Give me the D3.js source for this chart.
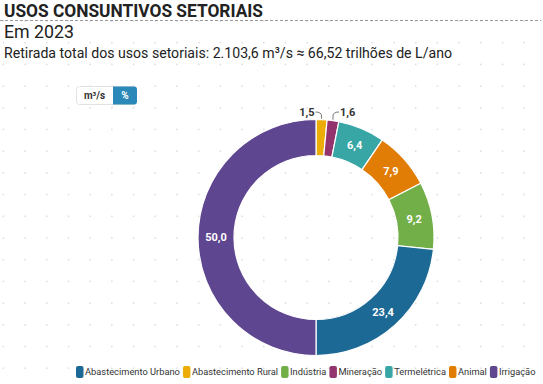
<!DOCTYPE html>
<html>
<head>
<meta charset="utf-8">
<script src="https://cdn.jsdelivr.net/npm/d3@7"></script>
<style>
  body { margin: 0; background: #fff; }
  svg { display: block; font-family: Roboto, "Open Sans", sans-serif; }
</style>
</head>
<body>
<div id="chart"></div>
<script>
// data, clockwise from 12 o'clock
var sectors = ["Abastecimento Rural", "Mineração", "Termelétrica", "Animal", "Indústria", "Abastecimento Urbano", "Irrigação"];
var shares = [1.5, 1.6, 6.4, 7.9, 9.2, 23.4, 50.0];
var legendOrder = ["Abastecimento Urbano", "Abastecimento Rural", "Indústria", "Mineração", "Termelétrica", "Animal", "Irrigação"];
var sectorColors = ["#edad08", "#94346e", "#38a6a5", "#e17c05", "#73af48", "#1d6996", "#5f4690"];

var width = 543, height = 384;
var cx = 316, cy = 237.5, rOuter = 118, rInner = 82;

var svg = d3.select("#chart").append("svg")
    .attr("width", width)
    .attr("height", height);

// dotted background
var gx = d3.range(3.4, width, 21.7), gy = d3.range(-0.7, height, 21.7);
var dots = svg.append("g").attr("fill", "#dcdcdc");
gy.forEach(function(y) {
    gx.forEach(function(x) {
        dots.append("rect").attr("x", x - 0.75).attr("y", y - 0.75).attr("width", 1.5).attr("height", 1.5);
    });
});

// header (the original font is condensed, so squeeze to the same widths)
function fitText(sel, w) {
    sel.attr("textLength", w).attr("lengthAdjust", "spacingAndGlyphs");
}
svg.append("text").attr("x", 4).attr("y", 17)
    .style("font-size", "18px").style("font-weight", "bold").attr("fill", "#222")
    .text("USOS CONSUNTIVOS SETORIAIS").call(fitText, 259);
svg.append("line").attr("x1", 0).attr("x2", 541).attr("y1", 20.5).attr("y2", 20.5)
    .attr("stroke", "#999").attr("stroke-dasharray", "3,2");
svg.append("text").attr("x", 4).attr("y", 38)
    .style("font-size", "19px").attr("fill", "#222")
    .text("Em 2023").call(fitText, 70);
svg.append("text").attr("x", 4).attr("y", 58)
    .style("font-size", "15.5px").attr("fill", "#222")
    .text("Retirada total dos usos setoriais: 2.103,6 m³/s ≈ 66,52 trilhões de L/ano").call(fitText, 448);

// unit toggle
var btn = svg.append("g").attr("transform", "translate(76,86)");
btn.append("rect").attr("x", 0.5).attr("y", 0.5).attr("width", 60).attr("height", 18).attr("rx", 3)
    .attr("fill", "#fff").attr("stroke", "#e2e2e2");
btn.append("path").attr("d", "M37,0.5 H58 A3,3 0 0 1 61,3.5 V15.5 A3,3 0 0 1 58,18.5 H37 Z").attr("fill", "#2a89b8");
btn.append("text").attr("x", 18.5).attr("y", 13).attr("text-anchor", "middle")
    .style("font-size", "10px").style("font-weight", "bold").attr("fill", "#333").text("m³/s");
btn.append("text").attr("x", 49).attr("y", 13).attr("text-anchor", "middle")
    .style("font-size", "10px").style("font-weight", "bold").attr("fill", "#fff").text("%");

// donut
var color = d3.scaleOrdinal().domain(sectors).range(sectorColors);
var pie = d3.pie().sort(null).value(function(d) { return d.value; });
var arcs = pie(sectors.map(function(s, i) { return {name: s, value: shares[i]}; }));
var arc = d3.arc().innerRadius(rInner).outerRadius(rOuter);
var labelArc = d3.arc().innerRadius((rInner + rOuter) / 2).outerRadius((rInner + rOuter) / 2);

var g = svg.append("g").attr("transform", "translate(" + cx + "," + cy + ")");
g.selectAll("path.slice")
    .data(arcs)
    .enter()
    .append("path")
        .attr("class", "slice")
        .attr("d", arc)
        .attr("fill", function(d) { return color(d.data.name); })
        .attr("stroke", "#fff")
        .attr("stroke-width", 1.2);

var fmt = function(v) { return d3.format(".1f")(v).replace(".", ","); };

// big slices get label inside
g.selectAll("text.inside")
    .data(arcs.filter(function(d) { return d.data.value >= 5; }))
    .enter()
    .append("text")
        .attr("class", "inside")
        .attr("transform", function(d) { return "translate(" + labelArc.centroid(d) + ")"; })
        .attr("text-anchor", "middle")
        .attr("dy", "0.35em")
        .style("font-size", "11px")
        .style("font-weight", "bold")
        .attr("fill", "#fff")
        .text(function(d) { return fmt(d.data.value); });

// small slices: label outside with a curved leader
var small = arcs.filter(function(d) { return d.data.value < 5; });
small.forEach(function(d, i) {
    var a = (d.startAngle + d.endAngle) / 2;
    var x0 = Math.sin(a) * rOuter, y0 = -Math.cos(a) * rOuter;
    var side = i === 0 ? -1 : 1;
    var yl = -rOuter - 7.5;
    var xl = x0 + side * 6;
    g.append("path")
        .attr("d", "M" + x0 + "," + (y0 - 1) + " V" + (yl + 4) + " Q" + x0 + "," + yl + " " + xl + "," + yl)
        .attr("fill", "none").attr("stroke", "#555").attr("stroke-width", 0.8);
    g.append("text")
        .attr("x", xl + side * 1).attr("y", yl)
        .attr("dy", "0.35em")
        .attr("text-anchor", side < 0 ? "end" : "start")
        .style("font-size", "11px").style("font-weight", "bold").attr("fill", "#333")
        .text(fmt(d.data.value));
});

// legend: pick a font size so the row spans x 76 .. ~538 like the reference
var leg = svg.append("g").attr("transform", "translate(76,372)");
var swatchSpace = 9, gap = 3, baseSize = 11.5;
var items = legendOrder.map(function(name) {
    var item = leg.append("g");
    item.append("rect").attr("x", 0).attr("y", -6).attr("width", 7.5).attr("height", 12).attr("rx", 2)
        .attr("fill", color(name));
    var t = item.append("text").attr("x", swatchSpace).attr("dy", "0.35em")
        .style("font-size", baseSize + "px").attr("fill", "#333").text(name);
    return {item: item, text: t, w: t.node().getComputedTextLength()};
});
var natural = d3.sum(items, function(d) { return d.w; });
var k = Math.min(1, (460 - items.length * (swatchSpace + gap) + gap) / natural);
var lx = 0;
items.forEach(function(d) {
    d.text.style("font-size", (baseSize * k) + "px");
    d.item.attr("transform", "translate(" + lx + ",0)");
    lx += swatchSpace + d.text.node().getComputedTextLength() + gap;
});
</script>
</body>
</html>
